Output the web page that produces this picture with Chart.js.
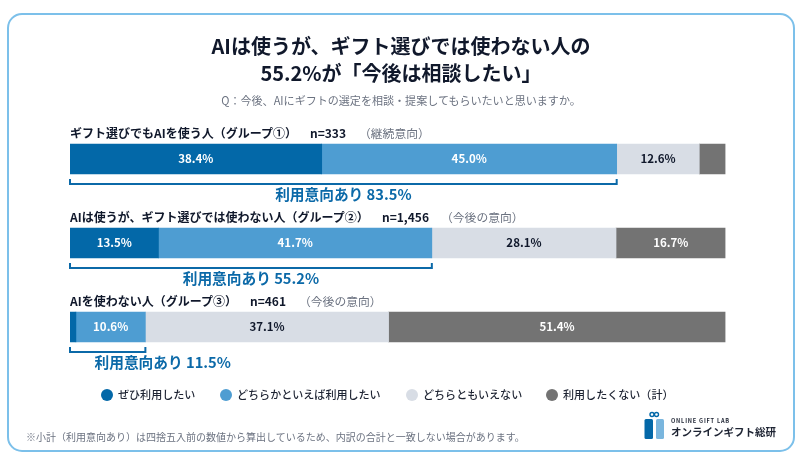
<!DOCTYPE html>
<html lang="ja">
<head>
<meta charset="utf-8">
<title>AI gift chart</title>
<script src="https://cdn.jsdelivr.net/npm/chart.js@4"></script>
<style>
html, body { margin: 0; padding: 0; background: #fff; }
body { width: 800px; height: 463px; position: relative; overflow: hidden; font-family: "Noto Sans CJK JP", "Noto Sans", sans-serif; }
#frame { position: absolute; left: 6.5px; top: 13px; width: 784px; height: 434.5px; border: 2px solid #7cc0ea; border-radius: 15px; }
#myChart { position: absolute; left: 0; top: 0; }
.t { position: absolute; white-space: nowrap; line-height: 1; transform: translateY(-50%); }
.title { left: 1px; width: 800px; text-align: center; font-size: 20px; font-weight: 700; color: #10182b; }
.sub { left: 1px; width: 800px; text-align: center; font-size: 11.05px; color: #6b7280; }
.head { font-size: 12px; font-weight: 700; color: #10182b; }
.note { font-size: 11.8px; color: #6b7280; }
.dot { position: absolute; width: 12px; height: 12px; border-radius: 50%; top: 389px; }
.leg { font-size: 11.05px; font-weight: 500; color: #1e2433; top: 395px; }
.foot { left: 26px; top: 437px; font-size: 10px; color: #6b7280; }
</style>
</head>
<body>
<div id="frame"></div>
<canvas id="myChart" width="800" height="463"></canvas>
<div class="t title" style="top:46px">AIは使うが、ギフト選びでは使わない人の</div>
<div class="t title" style="top:73px">55.2%が「今後は相談したい」</div>
<div class="t sub" style="top:101px">Q：今後、AIにギフトの選定を相談・提案してもらいたいと思いますか。</div>
<div id="heads"></div>
<div id="legend"></div>
<div class="t foot">※小計（利用意向あり）は四捨五入前の数値から算出しているため、内訳の合計と一致しない場合があります。</div>
<svg style="position:absolute;left:640px;top:408px" width="30" height="36" viewBox="0 0 30 36">
  <rect x="4.5" y="11" width="8.5" height="20" rx="1.5" fill="#0368a8"/>
  <rect x="16" y="11" width="8" height="20" rx="1.5" fill="#7ab6de"/>
  <circle cx="12" cy="6.5" r="2" fill="none" stroke="#0368a8" stroke-width="1.4"/>
  <circle cx="16.5" cy="6.5" r="2" fill="none" stroke="#0368a8" stroke-width="1.4"/>
</svg>
<div class="t" style="left:671px;top:422px;font-size:5.6px;font-weight:700;letter-spacing:.8px;color:#1e2433">ONLINE GIFT LAB</div>
<div class="t" style="left:671px;top:431.5px;font-size:10.5px;font-weight:700;color:#1e2433">オンラインギフト総研</div>
<script>
// DATA
const groups = ['ギフト選びでもAIを使う人（グループ①）', 'AIは使うが、ギフト選びでは使わない人（グループ②）', 'AIを使わない人（グループ③）'];
const sampleSizes = ['n=333', 'n=1,456', 'n=461'];
const intentNotes = ['（継続意向）', '（今後の意向）', '（今後の意向）'];
const seriesNames = ['ぜひ利用したい', 'どちらかといえば利用したい', 'どちらともいえない', '利用したくない（計）'];
const definitely = [38.4, 13.5, 0.9];
const somewhat = [45.0, 41.7, 10.6];
const neutral = [12.6, 28.1, 37.1];
const notWant = [4.0, 16.7, 51.4];
const subtotals = [83.5, 55.2, 11.5];

const seriesColors = ['#0368a8', '#4e9dd2', '#d8dde5', '#737373'];
const labelColors = ['#fff', '#fff', '#10182b', '#fff'];
const bracketColor = '#0b69a8';

// header text positions
const nameY = [133, 217, 301];
const sizeX = [310, 382, 250];
const noteX = [359, 441, 299];
// third label sits off-centre in the original
const subtotalShift = [0, 0, 55];
// legend positions
const dotX = [101, 220, 406, 546];
const legendX = [118, 237, 423, 563];

function addText(parent, cls, text, x, y) {
    const el = document.createElement('div');
    el.className = 't ' + cls;
    el.textContent = text;
    el.style.left = x + 'px';
    if (y !== null) el.style.top = y + 'px';
    parent.appendChild(el);
}

const heads = document.getElementById('heads');
groups.forEach((g, i) => {
    addText(heads, 'head', g, 70, nameY[i]);
    addText(heads, 'head', sampleSizes[i], sizeX[i], nameY[i]);
    addText(heads, 'note', intentNotes[i], noteX[i], nameY[i]);
});

const legend = document.getElementById('legend');
seriesNames.forEach((name, i) => {
    const dot = document.createElement('div');
    dot.className = 'dot';
    dot.style.left = dotX[i] + 'px';
    dot.style.background = seriesColors[i];
    legend.appendChild(dot);
    addText(legend, 'leg', name, legendX[i], null);
});

// percent labels inside the bars, small segments stay empty
const barLabels = {
    id: 'barLabels',
    afterDatasetsDraw(chart) {
        const ctx = chart.ctx;
        ctx.save();
        ctx.font = '700 11.5px "Noto Sans CJK JP", "Noto Sans", sans-serif';
        ctx.textAlign = 'center';
        ctx.textBaseline = 'middle';
        chart.data.datasets.forEach((ds, d) => {
            chart.getDatasetMeta(d).data.forEach((bar, i) => {
                if (ds.data[i] < 5) return;
                ctx.fillStyle = labelColors[d];
                const c = bar.getCenterPoint();
                ctx.fillText(ds.data[i].toFixed(1) + '%', c.x, c.y);
            });
        });
        ctx.restore();
    }
};

// brackets under the bars and the subtotal text
const brackets = {
    id: 'brackets',
    afterDatasetsDraw(chart) {
        const ctx = chart.ctx;
        const xs = chart.scales.x;
        const ys = chart.scales.y;
        ctx.save();
        subtotals.forEach((sub, i) => {
            const x0 = xs.getPixelForValue(0);
            const x1 = xs.getPixelForValue(definitely[i] + somewhat[i]);
            const y = ys.getPixelForValue(i) + 25;
            ctx.strokeStyle = bracketColor;
            ctx.lineWidth = 2;
            ctx.beginPath();
            ctx.moveTo(x0, y - 5);
            ctx.lineTo(x0, y);
            ctx.lineTo(x1, y);
            ctx.lineTo(x1, y - 5);
            ctx.stroke();
            ctx.fillStyle = bracketColor;
            ctx.font = '700 14.7px "Noto Sans CJK JP", "Noto Sans", sans-serif';
            ctx.textAlign = 'center';
            ctx.textBaseline = 'middle';
            ctx.fillText('利用意向あり ' + sub.toFixed(1) + '%', (x0 + x1) / 2 + subtotalShift[i], y + 10);
        });
        ctx.restore();
    }
};

const allSeries = [definitely, somewhat, neutral, notWant];

new Chart(document.getElementById('myChart'), {
    type: 'bar',
    data: {
        labels: groups,
        datasets: allSeries.map((values, i) => ({
            label: seriesNames[i],
            data: values,
            backgroundColor: seriesColors[i],
            barThickness: 30
        }))
    },
    options: {
        indexAxis: 'y',
        responsive: false,
        animation: false,
        layout: { padding: { left: 70, right: 74.5, top: 117, bottom: 94 } },
        plugins: { legend: { display: false }, tooltip: { enabled: false } },
        scales: {
            x: { stacked: true, min: 0, max: 100, display: false },
            y: { stacked: true, display: false }
        }
    },
    plugins: [barLabels, brackets]
});
</script>
</body>
</html>
